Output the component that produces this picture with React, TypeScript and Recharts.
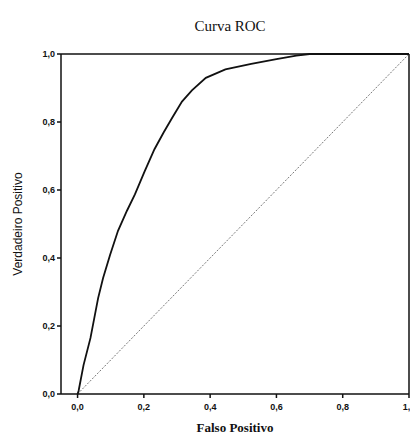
import React from 'react';
import { LineChart, Line, XAxis, YAxis, ReferenceLine } from 'recharts';

// ROC curve
const fpr = [0, 0.003, 0.018, 0.039, 0.062, 0.077, 0.098, 0.122, 0.149, 0.173, 0.202, 0.232, 0.26, 0.286, 0.315, 0.345, 0.387, 0.446, 0.524, 0.6, 0.66, 0.7, 0.8, 0.9, 1.0];
const tpr = [0, 0.009, 0.085, 0.165, 0.282, 0.341, 0.409, 0.48, 0.539, 0.587, 0.654, 0.72, 0.77, 0.813, 0.86, 0.893, 0.93, 0.955, 0.971, 0.985, 0.995, 1.0, 1.0, 1.0, 1.0];
const diagonal = [0, 1];
const ticks = [0, 0.2, 0.4, 0.6, 0.8, 1.0];

const rocData = fpr.map((x, i) => ({ x, y: tpr[i] }));
const diagData = diagonal.map((v) => ({ x: v, y: v }));

const fmt = (v: number) => v.toFixed(1).replace('.', ',');

const tickStyle = { fontFamily: 'Liberation Sans, Arial, sans-serif', fontSize: 9, fontWeight: 'bold', fill: '#111' };

const App: React.FC = () => {
  return (
    <div style={{ position: 'relative', width: 410, height: 428 }}>
      <div
        style={{
          position: 'absolute',
          top: 10,
          left: 0,
          width: 444,
          textAlign: 'center',
          fontFamily: 'Liberation Serif, Times New Roman, serif',
          fontSize: 15,
          lineHeight: '17px',
          color: '#111',
        }}
      >
        Curva ROC
      </div>
      <LineChart width={410} height={428} margin={{ top: 46, right: 9, bottom: 0, left: 0 }}>
        <XAxis
          type="number"
          dataKey="x"
          domain={[-0.05, 1]}
          ticks={ticks}
          tickFormatter={fmt}
          allowDataOverflow
          height={42}
          tickSize={4}
          tickMargin={6}
          tick={tickStyle}
          stroke="#111"
          strokeWidth={1.5}
          label={{
            value: 'Falso Positivo',
            position: 'insideBottom',
            offset: 4,
            style: { fontFamily: 'Liberation Serif, Times New Roman, serif', fontSize: 13, fontWeight: 'bold', fill: '#111' },
          }}
        />
        <YAxis
          type="number"
          dataKey="y"
          domain={[0, 1]}
          ticks={ticks}
          tickFormatter={fmt}
          width={53}
          tickSize={4}
          tickMargin={2}
          tick={tickStyle}
          stroke="#111"
          strokeWidth={1.5}
          label={{
            value: 'Verdadeiro Positivo',
            angle: -90,
            position: 'insideLeft',
            offset: 10,
            style: { textAnchor: 'middle', fontFamily: 'Liberation Sans, Arial, sans-serif', fontSize: 12, fill: '#111' },
          }}
        />
        <ReferenceLine y={1} stroke="#111" strokeWidth={1.5} />
        <ReferenceLine x={1} stroke="#111" strokeWidth={1.5} />
        <Line
          data={diagData}
          dataKey="y"
          type="linear"
          stroke="#555"
          strokeWidth={0.8}
          strokeDasharray="2 1.5"
          dot={false}
          isAnimationActive={false}
        />
        <Line
          data={rocData}
          dataKey="y"
          type="linear"
          stroke="#111"
          strokeWidth={1.8}
          dot={false}
          isAnimationActive={false}
        />
      </LineChart>
    </div>
  );
};

export default App;
